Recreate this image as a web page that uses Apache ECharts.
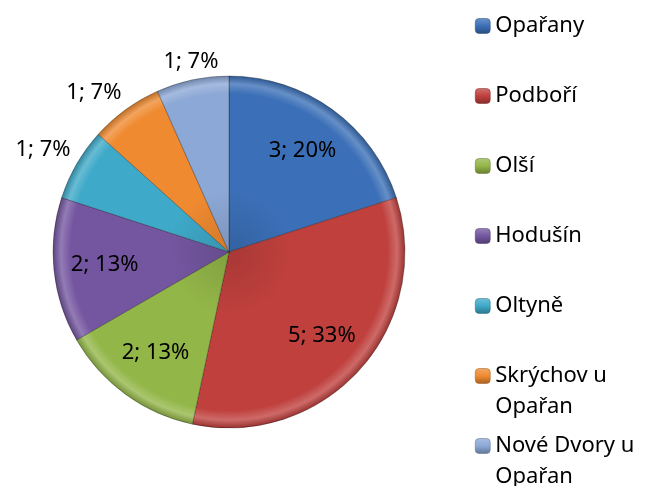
<!DOCTYPE html>
<html><head><meta charset="utf-8">
<script src="https://cdn.jsdelivr.net/npm/echarts@6/dist/echarts.min.js"></script>
<style>html,body{margin:0;padding:0;background:#fff}#c{width:646px;height:486px}</style>
</head><body><div id="c"></div>
<script>
const categories = ['Opařany', 'Podboří', 'Olší', 'Hodušín', 'Oltyně', 'Skrýchov u Opařan', 'Nové Dvory u Opařan'];
const values = [3, 5, 2, 2, 1, 1, 1];
const colors = ['#3B6FB7', '#BF403D', '#93B648', '#7456A0', '#3EA9C8', '#EF8A30', '#8CA8D6'];

const CX = 229, CY = 252, R = 176;
const FONT = 'Noto Sans';
const total = values.reduce((a, b) => a + b, 0);

function shade(hex, f) {
  const n = parseInt(hex.slice(1), 16);
  let r = (n >> 16) & 255, g = (n >> 8) & 255, b = n & 255;
  const t = f < 0 ? 0 : 255, p = Math.abs(f);
  r = Math.round((t - r) * p + r); g = Math.round((t - g) * p + g); b = Math.round((t - b) * p + b);
  return 'rgb(' + r + ',' + g + ',' + b + ')';
}
function grad(c) {
  return {
    type: 'radial', x: CX, y: CY, r: R, global: true,
    colorStops: [
      { offset: 0, color: shade(c, -0.12) },
      { offset: 0.35, color: c },
      { offset: 0.9, color: c },
      { offset: 0.955, color: shade(c, 0.22) },
      { offset: 1, color: shade(c, -0.2) }
    ]
  };
}
function iconGrad(c) {
  return {
    type: 'linear', x: 0, y: 0, x2: 0, y2: 1,
    colorStops: [{ offset: 0, color: shade(c, 0.25) }, { offset: 0.5, color: c }, { offset: 1, color: shade(c, -0.3) }]
  };
}
const fmt = p => p.value + '; ' + Math.round(p.value / total * 100) + '%';
const isSmall = v => v / total < 0.1;
// legend text: wrap long names before last word; empty line on top keeps icon on first line
function legendText(n) {
  if (n.length > 12) {
    const k = n.lastIndexOf(' ');
    return '\n' + n.slice(0, k) + '\n' + n.slice(k + 1);
  }
  return '\n' + n + '\n';
}

const LH = 31;
const chart = echarts.init(document.getElementById('c'), null, { renderer: 'canvas' });
chart.setOption({
  animation: false,
  backgroundColor: '#fff',
  legend: {
    orient: 'vertical', left: 475, top: 26 - LH * 1.5, height: 900, padding: 0,
    itemWidth: 15, itemHeight: 15, itemGap: 70 - 3 * LH,
    selectedMode: false,
    formatter: legendText,
    textStyle: { fontFamily: FONT, fontSize: 22, color: '#000', lineHeight: LH },
    data: categories.map((n, i) => ({
      name: n,
      itemStyle: { color: iconGrad(colors[i]), borderColor: shade(colors[i], -0.35), borderWidth: 0.5 }
    }))
  },
  series: [
    {
      type: 'pie', center: [CX, CY], radius: [0, R], startAngle: 90, clockwise: true,
      silent: true, label: { show: false }, labelLine: { show: false },
      itemStyle: { borderColor: 'rgba(0,0,0,0.28)', borderWidth: 1 },
      data: categories.map((n, i) => ({ name: n, value: values[i], itemStyle: { color: grad(colors[i]) } }))
    },
    {
      type: 'pie', center: [CX, CY], radius: [0, 244], startAngle: 90, clockwise: true,
      silent: true, itemStyle: { color: 'rgba(0,0,0,0)' }, labelLine: { show: false },
      label: { position: 'inside', formatter: fmt, fontFamily: FONT, fontSize: 22, color: '#000' },
      data: categories.map((n, i) => ({ name: n, value: values[i], label: { show: !isSmall(values[i]) } }))
    },
    {
      type: 'pie', center: [CX, CY], radius: [0, 360], startAngle: 90, clockwise: true,
      silent: true, itemStyle: { color: 'rgba(0,0,0,0)' }, labelLine: { show: false },
      label: { position: 'inside', formatter: fmt, fontFamily: FONT, fontSize: 22, color: '#000' },
      labelLayout: function (p) {
        const r = p.labelRect;
        const lx = r.x + r.width / 2, ly = r.y + r.height / 2;
        let ux = lx - CX, uy = ly - CY;
        const len = Math.hypot(ux, uy) || 1; ux /= len; uy /= len;
        const sx = ux < -0.3 ? -1 : (ux > 0.3 ? 1 : 0);
        const sy = uy < -0.3 ? -1 : (uy > 0.3 ? 1 : 0);
        return { dx: sx * r.width / 2, dy: sy * r.height / 2 };
      },
      data: categories.map((n, i) => ({ name: n, value: values[i], label: { show: isSmall(values[i]) } }))
    }
  ]
});
</script>
</body></html>
